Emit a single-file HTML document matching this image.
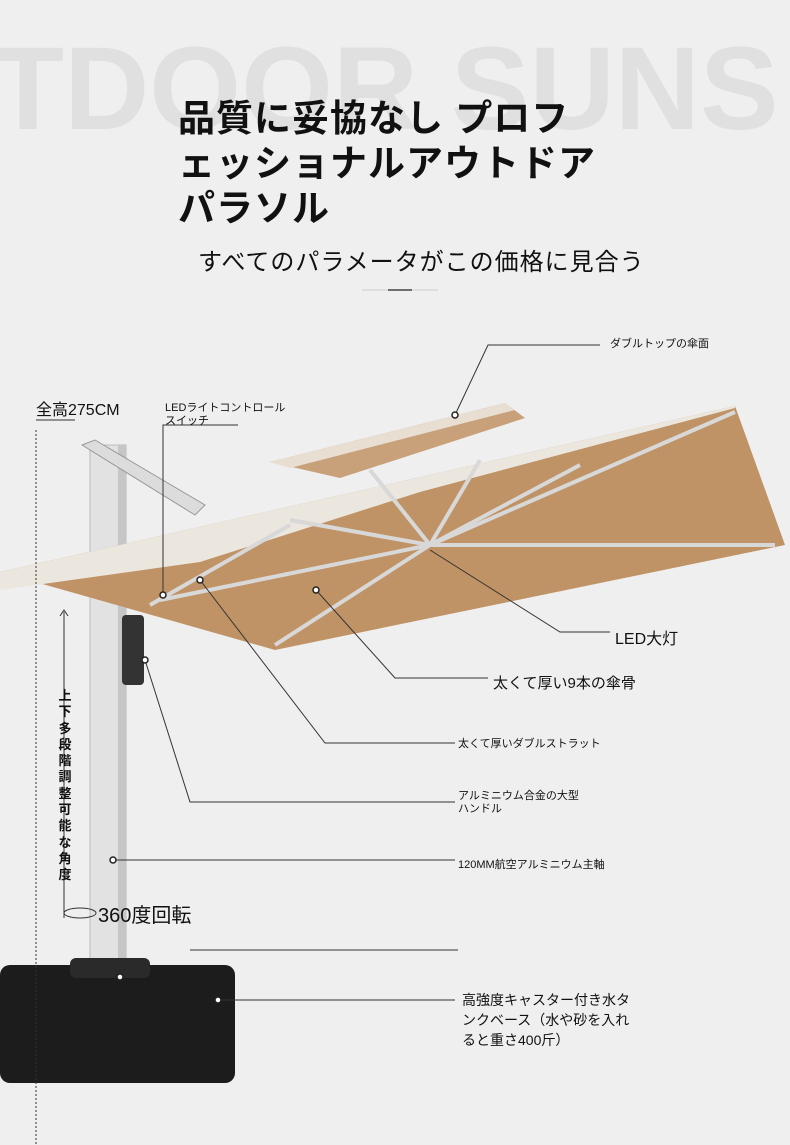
<!DOCTYPE html>
<html><head><meta charset="utf-8"><style>
html,body{margin:0;padding:0}
body{width:790px;height:1145px;background:#efefef;position:relative;overflow:hidden;font-family:"Liberation Sans","Noto Sans CJK JP",sans-serif;color:#111}
.wmw{position:absolute;left:0;top:0;width:790px;height:160px;overflow:hidden}
.wm{position:absolute;left:-8px;top:30px;font-size:118px;font-weight:bold;color:#e0e0e0;letter-spacing:0;white-space:nowrap;line-height:1}
.t{position:absolute;left:178px;top:96px;font-size:37px;font-weight:bold;line-height:45px;letter-spacing:1px}
.sub{position:absolute;left:198px;top:242px;font-size:24px;letter-spacing:1px}
.lb{position:absolute;font-size:11px;line-height:13px;white-space:nowrap}
svg{position:absolute;left:0;top:0}
</style></head><body>
<div class="wmw"><div class="wm">TDOOR SUNS</div></div>
<div class="t">品質に妥協なし プロフ<br>ェッショナルアウトドア<br>パラソル</div>
<div class="sub">すべてのパラメータがこの価格に見合う</div>
<svg width="790" height="1145">
<line x1="388" y1="290" x2="412" y2="290" stroke="#111" stroke-width="2"/>
<line x1="362" y1="290" x2="438" y2="290" stroke="#ccc" stroke-width="1"/>
<!-- pole & arm -->
<rect x="90" y="445" width="36" height="525" fill="#e2e2e2" stroke="#bbb"/>
<rect x="118" y="445" width="8" height="525" fill="#c6c6c6"/>
<polygon points="82,445 95,440 205,505 195,515" fill="#dcdcdc" stroke="#999"/>
<!-- back canopy -->
<polygon points="270,462 505,403 525,418 340,478" fill="#c8a07a"/>
<polygon points="270,462 505,403 515,410 290,468" fill="#e8ded2"/>
<!-- main canopy -->
<polygon points="0,572 735,406 785,545 275,650" fill="#c09366"/>
<polygon points="0,572 735,406 735,408 420,492 200,562 0,590" fill="#ebe6de"/>
<!-- ribs -->
<g stroke="#d8d8d8" stroke-width="4">
<line x1="430" y1="545" x2="735" y2="412"/><line x1="430" y1="545" x2="775" y2="545"/>
<line x1="430" y1="545" x2="275" y2="645"/><line x1="430" y1="545" x2="160" y2="600"/>
<line x1="430" y1="545" x2="370" y2="470"/><line x1="430" y1="545" x2="480" y2="460"/>
<line x1="430" y1="545" x2="290" y2="520"/><line x1="430" y1="545" x2="580" y2="465"/>
<line x1="150" y1="605" x2="290" y2="525"/>
</g>
<rect x="122" y="615" width="22" height="70" rx="4" fill="#333"/>
<!-- base -->
<rect x="0" y="965" width="235" height="118" rx="10" fill="#1c1c1c"/>
<rect x="70" y="958" width="80" height="20" rx="6" fill="#2a2a2a"/>
<!-- connectors -->
<g stroke="#333" stroke-width="1" fill="none">
<polyline points="455,415 488,345 600,345"/>
<polyline points="36,420 75,420"/>
<line x1="36" y1="430" x2="36" y2="1145" stroke-dasharray="2,2"/>
<polyline points="163,595 163,425 238,425"/>
<polyline points="430,550 560,632 610,632"/>
<polyline points="316,590 395,678 488,678"/>
<polyline points="200,580 325,743 455,743"/>
<polyline points="145,660 190,802 455,802"/>
<line x1="113" y1="860" x2="455" y2="860"/>
<line x1="190" y1="950" x2="458" y2="950"/>
<line x1="218" y1="1000" x2="455" y2="1000"/>
<line x1="64" y1="612" x2="64" y2="918"/>
<path d="M60,616 L64,610 L68,616"/>
<ellipse cx="80" cy="913" rx="16" ry="5"/>
</g>
<g fill="#fff" stroke="#222" stroke-width="1.5">
<circle cx="163" cy="595" r="3"/><circle cx="455" cy="415" r="3"/><circle cx="316" cy="590" r="3"/>
<circle cx="200" cy="580" r="3"/><circle cx="145" cy="660" r="3"/><circle cx="113" cy="860" r="3"/>
<circle cx="120" cy="977" r="3"/><circle cx="218" cy="1000" r="3"/>
</g>
</svg>
<div class="lb" style="left:610px;top:338px">ダブルトップの傘面</div>
<div style="position:absolute;left:36px;top:396px;font-size:16px">全高275CM</div>
<div class="lb" style="left:165px;top:402px">LEDライトコントロール<br>スイッチ</div>
<div style="position:absolute;left:615px;top:625px;font-size:16px">LED大灯</div>
<div style="position:absolute;left:493px;top:672px;font-size:15px">太くて厚い9本の傘骨</div>
<div class="lb" style="left:458px;top:738px">太くて厚いダブルストラット</div>
<div class="lb" style="left:458px;top:790px">アルミニウム合金の大型<br>ハンドル</div>
<div class="lb" style="left:458px;top:859px">120MM航空アルミニウム主軸</div>
<div style="position:absolute;left:98px;top:899px;font-size:20px">360度回転</div>
<div style="position:absolute;left:57px;top:688px;width:16px;font-size:13px;font-weight:bold;line-height:16.3px;text-align:center">上下多段階調整可能な角度</div>
<div style="position:absolute;left:462px;top:990px;font-size:14px;line-height:20px">高強度キャスター付き水タ<br>ンクベース（水や砂を入れ<br>ると重さ400斤）</div>
</body></html>
